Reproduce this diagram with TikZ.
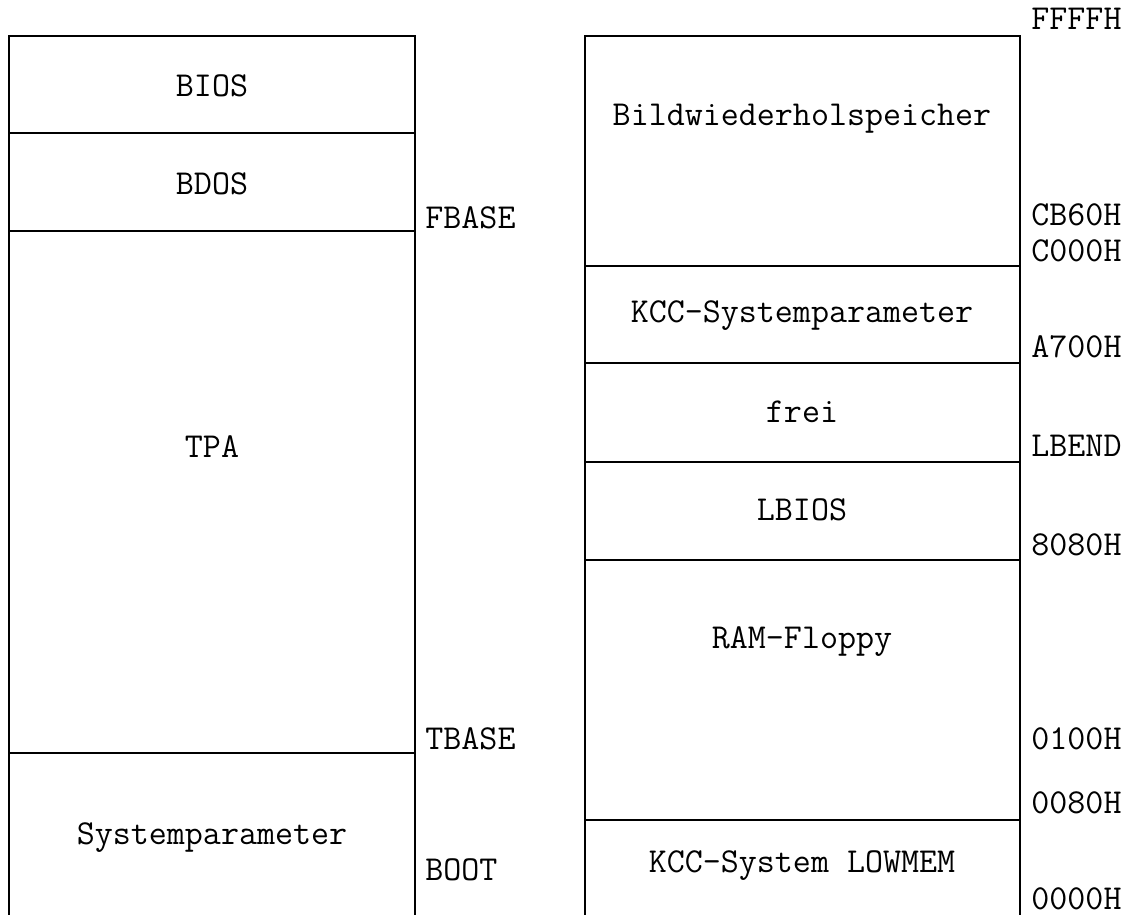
\documentclass[tikz,border=0pt]{standalone}
\usepackage{fontspec}
\tikzset{
  memline/.style={line width=1.2pt, line cap=rect},
  field/.style={inner sep=0pt, font=\ttfamily\fontsize{17.5}{20}\selectfont},
  addr/.style={field, anchor=west},
}

\begin{document}
\begin{tikzpicture}[x=0.5pt, y=-0.5pt]
		%%%%% START %%%%%
		\useasboundingbox (0, 0) rectangle (1130, 915);
		
		% CP/M side
		\draw[memline] (9, 915) -- (9, 36) -- (415, 36) -- (415, 915);
		\draw[memline] (9, 133) -- (415, 133);
		\draw[memline] (9, 231) -- (415, 231);
		\draw[memline] (9, 753) -- (415, 753);
		
		\node[field] (bios) at (212, 86) {BIOS};
		\node[field] (bdos) at (212, 184) {BDOS};
		\node[field] (tpa) at (212, 447) {TPA};
		\node[field] (syspar) at (212, 838) {Systemparameter};
		
		\node[addr] (fbase) at (425, 218) {FBASE};
		\node[addr] (tbase) at (425, 739) {TBASE};
		\node[addr] (boot) at (425, 870) {BOOT};
		
		% KC side
		\draw[memline] (585, 915) -- (585, 36) -- (1020, 36) -- (1020, 915);
		\draw[memline] (585, 266) -- (1020, 266);
		\draw[memline] (585, 363) -- (1020, 363);
		\draw[memline] (585, 462) -- (1020, 462);
		\draw[memline] (585, 560) -- (1020, 560);
		\draw[memline] (585, 820) -- (1020, 820);
		
		\node[field] (bws) at (802, 119) {Bildwiederholspeicher};
		\node[field] (kccpar) at (802, 316) {KCC-Systemparameter};
		\node[field] (frei) at (802, 412) {frei};
		\node[field] (lbios) at (802, 510) {LBIOS};
		\node[field] (ramfl) at (802, 642) {RAM-Floppy};
		\node[field] (lowmem) at (802, 866) {KCC-System LOWMEM};
		
		\node[addr] (affff) at (1031, 19) {FFFFH};
		\node[addr] (acb60) at (1031, 215) {CB60H};
		\node[addr] (ac000) at (1031, 251) {C000H};
		\node[addr] (aa700) at (1031, 347) {A700H};
		\node[addr] (lbend) at (1031, 446) {LBEND};
		\node[addr] (a8080) at (1031, 545) {8080H};
		\node[addr] (a0100) at (1031, 739) {0100H};
		\node[addr] (a0080) at (1031, 803) {0080H};
		\node[addr] (a0000) at (1031, 899) {0000H};
		
		%%%%% END %%%%%
\end{tikzpicture}
\end{document}
